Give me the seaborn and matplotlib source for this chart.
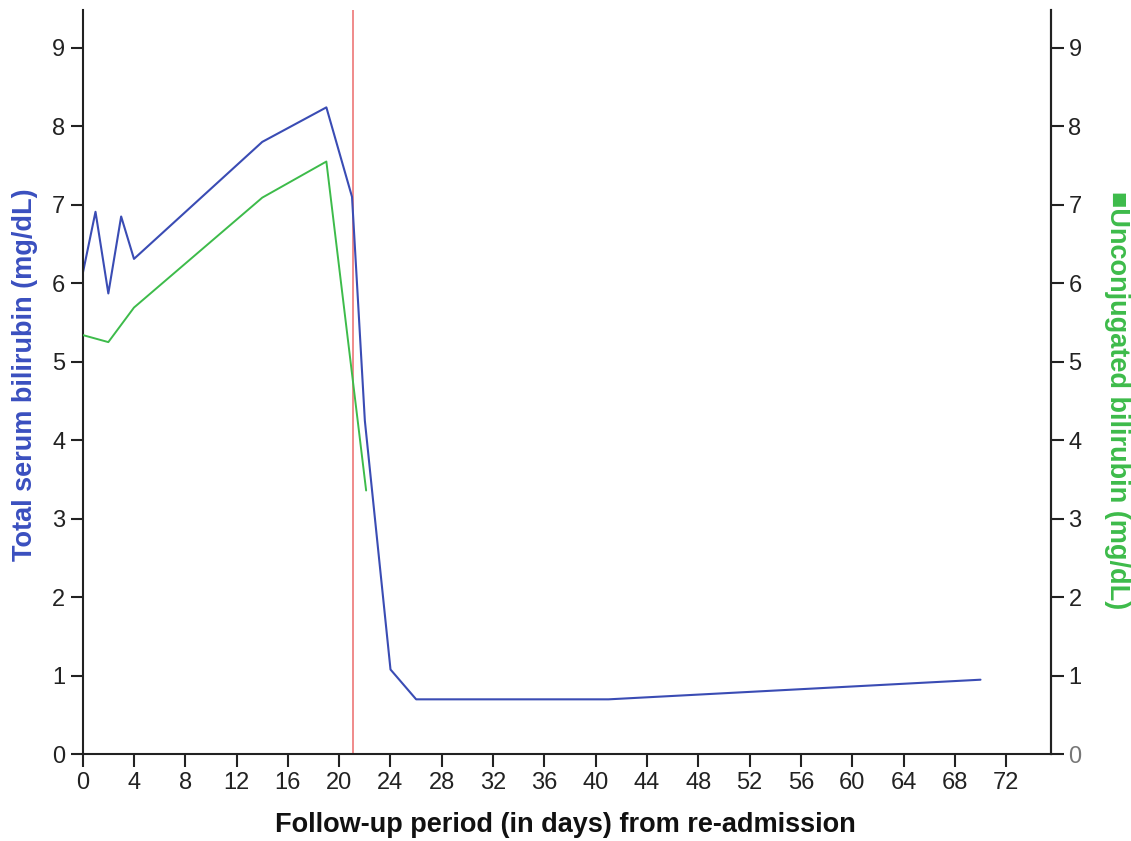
import matplotlib
matplotlib.use("Agg")
import matplotlib.pyplot as plt
import pandas as pd
import seaborn as sns

# total serum bilirubin (blue)
total_days = [0, 1, 2, 3, 4, 14, 19, 21, 22, 24, 26, 41, 70]
total_vals = [6.12, 6.91, 5.87, 6.85, 6.31, 7.80, 8.24, 7.10, 4.25, 1.08, 0.70, 0.70, 0.95]

# unconjugated bilirubin (green)
unconj_days = [0, 2, 4, 14, 19, 22.1]
unconj_vals = [5.34, 5.25, 5.69, 7.09, 7.55, 3.36]

event_day = 21.05
x_ticks = list(range(0, 73, 4))
y_ticks = list(range(0, 10))

blue = "#3a4cb4"
green = "#3dbb4a"
red = "#f08a8a"

sns.set_theme(style="ticks")
plt.rcParams["font.family"] = ["Liberation Sans", "DejaVu Sans"]

fig = plt.figure(figsize=(11.31, 8.41), dpi=100)
ax = fig.add_axes([0.0731, 0.1031, 0.8562, 0.8850])

total_df = pd.DataFrame({"day": total_days, "value": total_vals})
unconj_df = pd.DataFrame({"day": unconj_days, "value": unconj_vals})

sns.lineplot(data=total_df, x="day", y="value", ax=ax, color=blue, linewidth=1.5)
ax.axvline(event_day, color=red, linewidth=1.4, zorder=1)

ax2 = ax.twinx()
sns.lineplot(data=unconj_df, x="day", y="value", ax=ax2, color=green, linewidth=1.4)

for a in (ax, ax2):
    a.set_ylim(0, 9.48)
    a.set_yticks(y_ticks)
    a.spines["top"].set_visible(False)
    for s in a.spines.values():
        s.set_linewidth(1.5)
        s.set_color("#222222")
    a.tick_params(axis="both", length=9, width=1.5, labelsize=17, colors="#222222")

ax.set_xlim(0, 75.5)
ax.set_xticks(x_ticks)
ax.tick_params(axis="x", pad=4)

ax.set_xlabel("Follow-up period (in days) from re-admission", fontsize=19.5,
              fontweight="bold", color="#111111", va="center")
ax.xaxis.set_label_coords(0.498, -0.095)
ax.set_ylabel("Total serum bilirubin (mg/dL)", fontsize=19.5, fontweight="bold",
              color="#3a4fbf", va="center")
ax.yaxis.set_label_coords(-0.0596, 0.51)
ax2.set_ylabel("\u25a0Unconjugated bilirubin (mg/dL)", fontsize=19.5, fontweight="bold",
               color=green, rotation=270, va="center", ha="center")
ax2.yaxis.set_label_coords(1.068, 0.476)
ax2.get_yticklabels()[0].set_color("#777777")
ax2.spines["left"].set_visible(False)
ax2.spines["bottom"].set_visible(False)

fig.savefig("out.png", dpi=100, facecolor="white")
